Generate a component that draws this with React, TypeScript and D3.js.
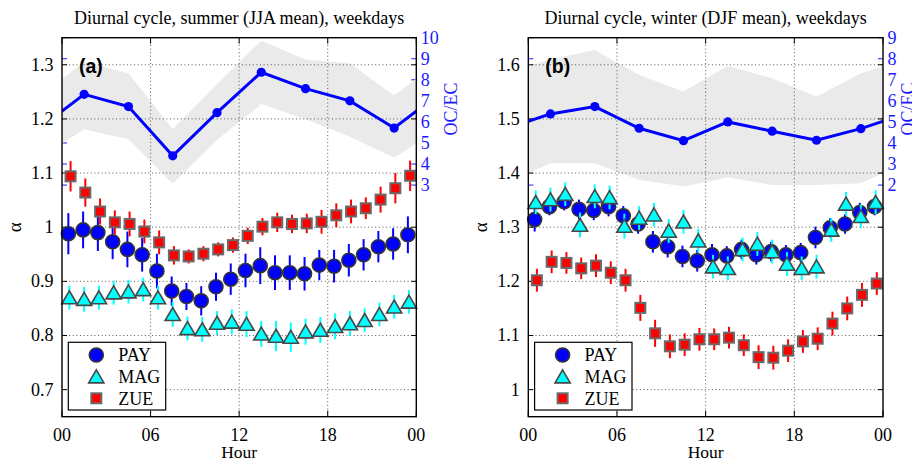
import React from 'react';
import * as d3 from 'd3';

// ---------- data ----------
const HOURS = [0, 1, 2, 3, 4, 5, 6, 7, 8, 9, 10, 11, 12, 13, 14, 15, 16, 17, 18, 19, 20, 21, 22, 23];
const X_TICKS = [0, 6, 12, 18, 24];
const X_TICK_LABELS = ['00', '06', '12', '18', '00'];
const OCEC_HOURS = [1.5, 4.5, 7.5, 10.5, 13.5, 16.5, 19.5, 22.5];
const SERIES_NAMES = ['PAY', 'MAG', 'ZUE'];

// Summer (JJA)
const SUM_PAY = [0.988, 0.995, 0.990, 0.973, 0.959, 0.949, 0.919, 0.882, 0.872, 0.864, 0.890, 0.904, 0.920, 0.929, 0.916, 0.916, 0.914, 0.930, 0.928, 0.939, 0.949, 0.964, 0.969, 0.986];
const SUM_PAY_ERR = [0.038, 0.034, 0.034, 0.032, 0.033, 0.031, 0.032, 0.027, 0.025, 0.027, 0.026, 0.029, 0.031, 0.034, 0.032, 0.032, 0.031, 0.028, 0.030, 0.030, 0.029, 0.029, 0.029, 0.034];
const SUM_MAG = [0.870, 0.867, 0.870, 0.879, 0.881, 0.885, 0.870, 0.839, 0.813, 0.811, 0.823, 0.825, 0.821, 0.803, 0.799, 0.797, 0.807, 0.810, 0.817, 0.822, 0.828, 0.839, 0.853, 0.862];
const SUM_MAG_ERR = [0.022, 0.023, 0.022, 0.022, 0.022, 0.022, 0.022, 0.023, 0.022, 0.023, 0.022, 0.023, 0.024, 0.024, 0.028, 0.027, 0.024, 0.024, 0.024, 0.023, 0.022, 0.022, 0.022, 0.022];
const SUM_ZUE = [1.094, 1.064, 1.029, 1.009, 1.006, 0.992, 0.972, 0.948, 0.946, 0.951, 0.959, 0.967, 0.984, 1.001, 1.009, 1.006, 1.007, 1.010, 1.022, 1.029, 1.035, 1.051, 1.072, 1.095];
const SUM_ZUE_ERR = [0.028, 0.026, 0.024, 0.022, 0.023, 0.022, 0.022, 0.017, 0.013, 0.014, 0.013, 0.014, 0.015, 0.016, 0.018, 0.017, 0.018, 0.022, 0.022, 0.022, 0.020, 0.024, 0.028, 0.028];
const SUM_OCEC = [7.31, 6.73, 4.39, 6.44, 8.36, 7.58, 7.0, 5.71];
const SUM_OCEC_HI = [8.85, 8.31, 5.65, 7.80, 9.86, 8.97, 8.79, 7.25];
const SUM_OCEC_LO = [5.65, 5.18, 3.06, 5.14, 6.85, 6.13, 5.30, 4.30];
const SUM_Y_TICKS = [0.7, 0.8, 0.9, 1.0, 1.1, 1.2, 1.3];
const SUM_Y_LABELS = ['0.7', '0.8', '0.9', '1', '1.1', '1.2', '1.3'];
const SUM_OC_TICKS = [3, 4, 5, 6, 7, 8, 9, 10];

// Winter (DJF)
const WIN_PAY = [1.314, 1.338, 1.347, 1.333, 1.331, 1.338, 1.321, 1.306, 1.273, 1.264, 1.246, 1.238, 1.249, 1.247, 1.259, 1.249, 1.255, 1.249, 1.253, 1.281, 1.299, 1.306, 1.327, 1.338];
const WIN_PAY_ERR = [0.022, 0.016, 0.016, 0.018, 0.018, 0.018, 0.018, 0.018, 0.020, 0.020, 0.020, 0.020, 0.020, 0.018, 0.018, 0.018, 0.018, 0.018, 0.018, 0.020, 0.018, 0.018, 0.018, 0.016];
const WIN_MAG = [1.346, 1.351, 1.361, 1.304, 1.357, 1.355, 1.302, 1.317, 1.323, 1.293, 1.310, 1.275, 1.227, 1.224, 1.259, 1.269, 1.255, 1.232, 1.224, 1.227, 1.295, 1.343, 1.320, 1.346];
const WIN_MAG_ERR = [0.022, 0.022, 0.022, 0.023, 0.022, 0.022, 0.023, 0.022, 0.022, 0.022, 0.022, 0.022, 0.022, 0.022, 0.022, 0.022, 0.022, 0.022, 0.022, 0.022, 0.022, 0.022, 0.022, 0.022];
const WIN_ZUE = [1.202, 1.236, 1.234, 1.224, 1.229, 1.216, 1.202, 1.151, 1.104, 1.080, 1.083, 1.093, 1.093, 1.096, 1.082, 1.060, 1.059, 1.072, 1.089, 1.094, 1.122, 1.150, 1.175, 1.196];
const WIN_ZUE_ERR = [0.021, 0.021, 0.020, 0.020, 0.021, 0.021, 0.021, 0.024, 0.025, 0.022, 0.021, 0.021, 0.020, 0.020, 0.020, 0.022, 0.022, 0.021, 0.021, 0.021, 0.022, 0.022, 0.022, 0.021];
const WIN_OCEC = [5.38, 5.73, 4.70, 4.11, 5.0, 4.56, 4.13, 4.68];
const WIN_OCEC_HI = [7.98, 8.42, 7.23, 6.44, 7.66, 7.07, 6.20, 7.31];
const WIN_OCEC_LO = [3.04, 3.04, 2.25, 1.93, 2.36, 2.01, 2.01, 2.09];
const WIN_Y_TICKS = [1.0, 1.1, 1.2, 1.3, 1.4, 1.5, 1.6];
const WIN_Y_LABELS = ['1', '1.1', '1.2', '1.3', '1.4', '1.5', '1.6'];
const WIN_OC_TICKS = [2, 3, 4, 5, 6, 7, 8, 9];

// ---------- styling ----------
const SERIF = '"Liberation Serif", "Times New Roman", serif';
const SANS = '"Liberation Sans", Arial, sans-serif';
const OFFSETS = [0.43, 0.5, 0.58];
const BLUE = '#0000ff';
const CYAN = '#00ffff';
const RED = '#ff0000';
const OC_BLUE = '#1a1aff';

const triPath = 'M0,-6.8L7.6,6.2L-7.6,6.2Z';

function Marker({ kind, cx, cy }: { kind: number; cx: number; cy: number }) {
  if (kind === 0) return <circle cx={cx} cy={cy} r={7} fill={BLUE} stroke="#333" strokeWidth={1.6} />;
  if (kind === 1) return <path d={triPath} transform={`translate(${cx},${cy})`} fill={CYAN} stroke="#474747" strokeWidth={1.6} strokeLinejoin="miter" />;
  return <rect x={cx - 5} y={cy - 5} width={10} height={10} fill={RED} stroke="#6a6a6a" strokeWidth={2} />;
}

type PanelProps = {
  id: string;
  left: number; right: number; top: number; bottom: number;
  title: string; tag: string;
  yDomain: [number, number]; yTicks: number[]; yLabels: string[];
  ocDomain: [number, number]; ocTicks: number[];
  series: number[][]; errs: number[][];
  oc: number[]; ocHi: number[]; ocLo: number[];
  ocLabelX: number;
};

function Panel(p: PanelProps) {
  const x = d3.scaleLinear().domain([0, 24]).range([p.left, p.right]);
  const y = d3.scaleLinear().domain(p.yDomain).range([p.bottom, p.top]);
  const y2 = d3.scaleLinear().domain(p.ocDomain).range([p.bottom, p.top]);
  const n = OCEC_HOURS.length;
  const wrap = [
    { h: OCEC_HOURS[n - 1] - 24, v: p.oc[n - 1], hi: p.ocHi[n - 1], lo: p.ocLo[n - 1] },
    ...OCEC_HOURS.map((h, i) => ({ h, v: p.oc[i], hi: p.ocHi[i], lo: p.ocLo[i] })),
    { h: OCEC_HOURS[0] + 24, v: p.oc[0], hi: p.ocHi[0], lo: p.ocLo[0] },
  ];
  const area = d3.area<any>().x((d) => x(d.h)).y0((d) => y2(d.lo)).y1((d) => y2(d.hi));
  const line = d3.line<any>().x((d) => x(d.h)).y((d) => y2(d.v));
  const tl = 5;
  const clipId = `clip-${p.id}`;
  const lx = p.left + 6.3;
  const legendRows = [355, 376.7, 398.3];
  const cxMid = (p.left + p.right) / 2;
  return (
    <g>
      <defs>
        <clipPath id={clipId}>
          <rect x={p.left} y={p.top} width={p.right - p.left} height={p.bottom - p.top} />
        </clipPath>
      </defs>
      <rect x={p.left} y={p.top} width={p.right - p.left} height={p.bottom - p.top} fill="#fff" />
      {/* OC/EC ticks (blue) on both sides */}
      {p.ocTicks.map((t) => (
        <g key={`oct${t}`}>
          <line x1={p.left} x2={p.left + tl} y1={y2(t)} y2={y2(t)} stroke={OC_BLUE} strokeWidth={1} />
          <line x1={p.right} x2={p.right - tl} y1={y2(t)} y2={y2(t)} stroke={OC_BLUE} strokeWidth={1} />
        </g>
      ))}
      {/* gray band */}
      <path d={area(wrap) || ''} fill="#eaeaea" clipPath={`url(#${clipId})`} />
      {/* grid */}
      {X_TICKS.slice(1, -1).map((t) => (
        <line key={`gx${t}`} x1={x(t)} x2={x(t)} y1={p.top} y2={p.bottom} stroke="#444" strokeWidth={0.9} strokeDasharray="1 2.6" />
      ))}
      {p.yTicks.map((t) => (
        <line key={`gy${t}`} x1={p.left} x2={p.right} y1={y(t)} y2={y(t)} stroke="#444" strokeWidth={0.9} strokeDasharray="1 2.6" />
      ))}
      {/* black ticks */}
      {p.yTicks.map((t) => (
        <g key={`yt${t}`}>
          <line x1={p.left} x2={p.left + tl} y1={y(t)} y2={y(t)} stroke="#000" strokeWidth={1} />
          <line x1={p.right} x2={p.right - tl} y1={y(t)} y2={y(t)} stroke="#000" strokeWidth={1} />
        </g>
      ))}
      {X_TICKS.map((t) => (
        <g key={`xt${t}`}>
          <line x1={x(t)} x2={x(t)} y1={p.bottom} y2={p.bottom - 6} stroke="#000" strokeWidth={1} />
          <line x1={x(t)} x2={x(t)} y1={p.top} y2={p.top + 6} stroke="#000" strokeWidth={1} />
        </g>
      ))}
      {/* OC/EC line */}
      <g clipPath={`url(#${clipId})`}>
        <path d={line(wrap) || ''} fill="none" stroke={BLUE} strokeWidth={3} />
      </g>
      {OCEC_HOURS.map((h, i) => (
        <circle key={`ocp${i}`} cx={x(h)} cy={y2(p.oc[i])} r={4.6} fill={BLUE} />
      ))}
      {/* alpha series */}
      {p.series.map((vals, si) => {
        const col = si === 0 ? BLUE : si === 1 ? CYAN : RED;
        return (
          <g key={`s${si}`}>
            {HOURS.map((h, i) => (
              <line key={`e${i}`} x1={x(h + OFFSETS[si])} x2={x(h + OFFSETS[si])} y1={y(vals[i] - p.errs[si][i])} y2={y(vals[i] + p.errs[si][i])} stroke={col} strokeWidth={2} />
            ))}
            {HOURS.map((h, i) => (
              <Marker key={`m${i}`} kind={si} cx={x(h + OFFSETS[si])} cy={y(vals[i])} />
            ))}
          </g>
        );
      })}
      {/* frame */}
      <rect x={p.left} y={p.top} width={p.right - p.left} height={p.bottom - p.top} fill="none" stroke="#000" strokeWidth={1.4} />
      {/* legend */}
      <rect x={lx} y={342.3} width={97.4} height={67.7} fill="#fff" stroke="#000" strokeWidth={1.2} />
      {SERIES_NAMES.map((name, i) => (
        <g key={`lg${i}`}>
          <Marker kind={i} cx={lx + 28} cy={legendRows[i]} />
          <text x={lx + 50} y={legendRows[i]} dy="0.35em" fontFamily={SERIF} fontSize={18} fill="#000">{name}</text>
        </g>
      ))}
      {/* tag */}
      <text x={p.left + 17} y={72.5} fontFamily={SANS} fontWeight="bold" fontSize={19.5} fill="#000">{p.tag}</text>
      {/* axis labels */}
      {p.yTicks.map((t, i) => (
        <text key={`yl${t}`} x={p.left - 8.5} y={y(t)} dy="0.33em" textAnchor="end" fontFamily={SERIF} fontSize={18} fill="#000">{p.yLabels[i]}</text>
      ))}
      {p.ocTicks.map((t) => (
        <text key={`ol${t}`} x={p.right + 4.5} y={y2(t)} dy="0.33em" textAnchor="start" fontFamily={SERIF} fontSize={18} fill={OC_BLUE}>{t}</text>
      ))}
      {X_TICK_LABELS.map((lab, i) => (
        <text key={`xl${i}`} x={x(X_TICKS[i])} y={441} textAnchor="middle" fontFamily={SERIF} fontSize={18} fill="#000">{lab}</text>
      ))}
      <text x={cxMid} y={458} textAnchor="middle" fontFamily={SERIF} fontSize={17.5} fill="#000">Hour</text>
      <text transform={`translate(${p.left - 47},${y((p.yDomain[0] + p.yDomain[1]) / 2)}) rotate(-90)`} dy="0.3em" textAnchor="middle" fontFamily={SERIF} fontSize={19} fill="#000">α</text>
      <text transform={`translate(${p.ocLabelX},109) rotate(-90)`} dy="0.33em" textAnchor="middle" fontFamily={SERIF} fontSize={18} fill={OC_BLUE}>OC/EC</text>
      <text x={cxMid} y={23.5} textAnchor="middle" fontFamily={SERIF} fontSize={18} fill="#000">{p.title}</text>
    </g>
  );
}

export default function App() {
  return (
    <svg width={912} height={461} viewBox="0 0 912 461" style={{ position: 'absolute', left: 0, top: 0, background: '#fff' }}>
      <rect width={912} height={461} fill="#fff" />
      <Panel
        id="a" left={62} right={416.3} top={37.7} bottom={416.7}
        title="Diurnal cycle, summer (JJA mean), weekdays" tag="(a)"
        yDomain={[0.65, 1.35]} yTicks={SUM_Y_TICKS} yLabels={SUM_Y_LABELS}
        ocDomain={[-8, 10]} ocTicks={SUM_OC_TICKS}
        series={[SUM_PAY, SUM_MAG, SUM_ZUE]} errs={[SUM_PAY_ERR, SUM_MAG_ERR, SUM_ZUE_ERR]}
        oc={SUM_OCEC} ocHi={SUM_OCEC_HI} ocLo={SUM_OCEC_LO}
        ocLabelX={451.5}
      />
      <Panel
        id="b" left={528.3} right={883} top={37.7} bottom={416.7}
        title="Diurnal cycle, winter (DJF mean), weekdays" tag="(b)"
        yDomain={[0.95, 1.65]} yTicks={WIN_Y_TICKS} yLabels={WIN_Y_LABELS}
        ocDomain={[-9, 9]} ocTicks={WIN_OC_TICKS}
        series={[WIN_PAY, WIN_MAG, WIN_ZUE]} errs={[WIN_PAY_ERR, WIN_MAG_ERR, WIN_ZUE_ERR]}
        oc={WIN_OCEC} ocHi={WIN_OCEC_HI} ocLo={WIN_OCEC_LO}
        ocLabelX={908}
      />
    </svg>
  );
}
